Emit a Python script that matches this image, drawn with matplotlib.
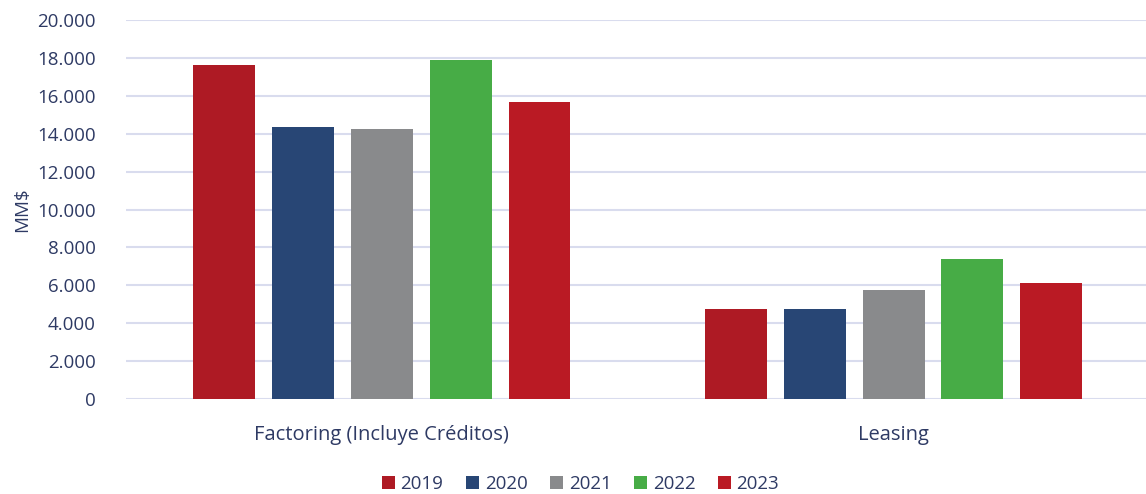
import matplotlib
matplotlib.use('Agg')
import matplotlib.pyplot as plt
import numpy as np

##### data #####
categories = ['Factoring (Incluye Créditos)', 'Leasing']
years = ['2019', '2020', '2021', '2022', '2023']
values_2019 = [17650, 4750]
values_2020 = [14350, 4750]
values_2021 = [14250, 5750]
values_2022 = [17900, 7380]
values_2023 = [15650, 6120]
year_colors = ['#AE1A24', '#284675', '#898A8C', '#47AC46', '#BA1A24']

series = [values_2019, values_2020, values_2021, values_2022, values_2023]
text_color = '#2E3A64'
plt.rcParams['font.family'] = ['Open Sans', 'DejaVu Sans']

fig = plt.figure(figsize=(11.46, 4.94), dpi=100)
ax = fig.add_axes([0.11, 0.1923, 0.893, 0.7672])

x = np.arange(len(categories))
step = 0.154
width = 0.121
for i, (yr, vals) in enumerate(zip(years, series)):
    offs = (i - 2) * step
    ax.bar(x + offs, vals, width=width, color=year_colors[i], label=yr, zorder=3)

ax.set_xlim(-0.5, 1.5)
ax.set_ylim(0, 20000)
ax.set_yticks(np.arange(0, 20001, 2000))
ax.set_yticklabels(['{:,}'.format(v).replace(',', '.') for v in range(0, 20001, 2000)])
ax.set_xticks(x)
ax.set_xticklabels(categories)
ax.grid(axis='y', color='#D9DCEE', linewidth=1.5, zorder=0)
for s in ax.spines.values():
    s.set_visible(False)
ax.tick_params(axis='y', length=0, pad=22, labelsize=13.5, labelcolor=text_color)
ax.tick_params(axis='x', length=0, pad=19, labelsize=14.5, labelcolor=text_color)
ax.set_ylabel('MM$', fontsize=13.5, color=text_color)
ax.yaxis.set_label_coords(-0.093, 0.5)

leg = ax.legend(loc='center', bbox_to_anchor=(0.444, -0.225), ncol=5, frameon=False,
                fontsize=13.5, handlelength=0.7, handleheight=0.7, handletextpad=0.3,
                columnspacing=1.2)
for t in leg.get_texts():
    t.set_color(text_color)

plt.savefig('out.png', dpi=100)
